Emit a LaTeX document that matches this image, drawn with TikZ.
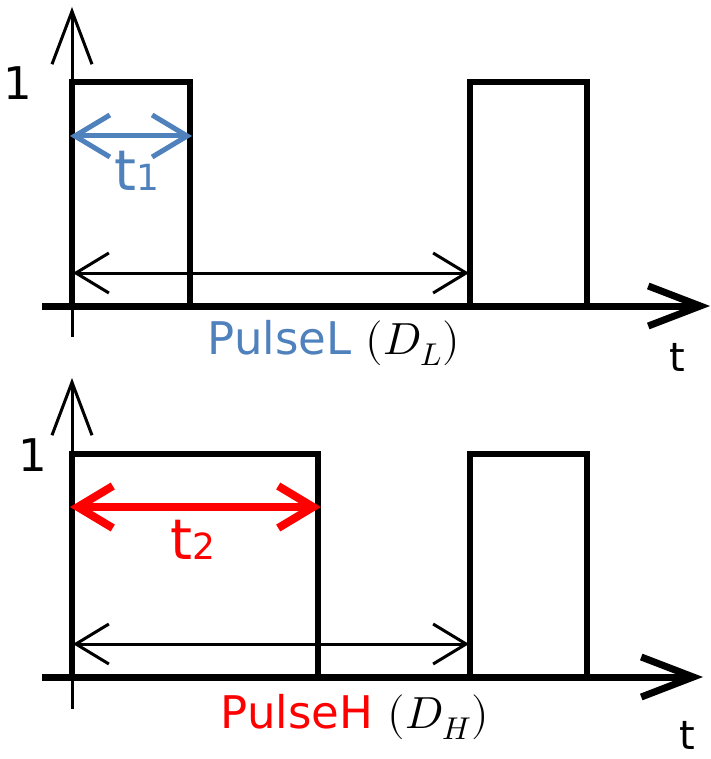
\documentclass[tikz,border=0pt]{standalone}
\usepackage{fontspec}
\usepackage{unicode-math}
\setmainfont{DejaVu Sans}
\setmathfont{Latin Modern Math}
\usetikzlibrary{arrows.meta,positioning}
\definecolor{pblue}{RGB}{79,129,189}
\definecolor{pred}{RGB}{255,0,0}

\begin{document}
\begin{tikzpicture}[x=1pt, y=-1pt,
    every node/.style={inner sep=0pt, font=\fontsize{45}{50}\selectfont},
    tlabel/.style={font=\fontsize{40}{44}\selectfont},
    yaxis/.style={line width=3pt, -{Straight Barb[length=53pt, width=40pt, line width=3pt]}}, % thin vertical axis
    taxis/.style={line width=7pt, -{Straight Barb[length=52pt, width=40pt, line width=7pt]}}, % thick time axis
    pulse/.style={line width=6pt, line join=miter},
    period/.style={line width=3pt, {Straight Barb[length=33pt, width=40pt, line width=3pt]}-{Straight Barb[length=33pt, width=40pt, line width=3pt]}},
    widthL/.style={pblue, line width=5pt, {Straight Barb[length=35pt, width=42pt, line width=5pt]}-{Straight Barb[length=35pt, width=42pt, line width=5pt]}},
    widthH/.style={pred, line width=8pt, {Straight Barb[length=35pt, width=42pt, line width=8pt]}-{Straight Barb[length=35pt, width=42pt, line width=8pt]}}
  ]
  \useasboundingbox (0,0) rectangle (710,759);

  % Upper panel (PulseL)
  \coordinate (yL0) at (72,337);
  \coordinate (yL1) at (72,7);
  \coordinate (xL0) at (42,306);
  \coordinate (xL1) at (710,306);
  \coordinate (aL) at (72,306);
  \coordinate (bL) at (72,82);
  \coordinate (cL) at (190,82);
  \coordinate (dL) at (190,306);
  \coordinate (eL) at (470,306);
  \coordinate (fL) at (470,82);
  \coordinate (gL) at (587,82);
  \coordinate (hL) at (587,306);
  \coordinate (wL0) at (70,136);
  \coordinate (wL1) at (192,136);
  \coordinate (pL0) at (73,273);
  \coordinate (pL1) at (469,273);

  \node (oneL) at (18,83) {1};
  \node[tlabel] (tL) at (677,357) {t};
  \node (t1) at (137,171) {\color{pblue}\fontsize{56}{60}\selectfont t\fontsize{36}{40}\selectfont 1};
  \node (nameL) at (334,343) {\color{pblue}PulseL \color{black}$(D_L)$};

  \draw[yaxis] (yL0) -- (yL1);
  \draw[pulse] (aL) -- (bL) -- (cL) -- (dL);
  \draw[pulse] (eL) -- (fL) -- (gL) -- (hL);
  \draw[taxis] (xL0) -- (xL1);
  \draw[widthL] (wL0) -- (wL1);
  \draw[period] (pL0) -- (pL1);

  % Lower panel (PulseH)
  \coordinate (yH0) at (72,709);
  \coordinate (yH1) at (72,378);
  \coordinate (xH0) at (42,677);
  \coordinate (xH1) at (703,677);
  \coordinate (aH) at (72,677);
  \coordinate (bH) at (72,454);
  \coordinate (cH) at (318,454);
  \coordinate (dH) at (318,677);
  \coordinate (eH) at (470,677);
  \coordinate (fH) at (470,454);
  \coordinate (gH) at (587,454);
  \coordinate (hH) at (587,677);
  \coordinate (wH0) at (70,507);
  \coordinate (wH1) at (321,507);
  \coordinate (pH0) at (73,644);
  \coordinate (pH1) at (469,644);

  \node (oneH) at (33,455) {1};
  \node[tlabel] (tH) at (687,735) {t};
  \node (t2) at (193,540) {\color{pred}\fontsize{56}{60}\selectfont t\fontsize{36}{40}\selectfont 2};
  \node (nameH) at (355,717) {\color{pred}PulseH \color{black}$(D_H)$};

  \draw[yaxis] (yH0) -- (yH1);
  \draw[pulse] (aH) -- (bH) -- (cH) -- (dH);
  \draw[pulse] (eH) -- (fH) -- (gH) -- (hH);
  \draw[taxis] (xH0) -- (xH1);
  \draw[widthH] (wH0) -- (wH1);
  \draw[period] (pH0) -- (pH1);
\end{tikzpicture}
\end{document}
